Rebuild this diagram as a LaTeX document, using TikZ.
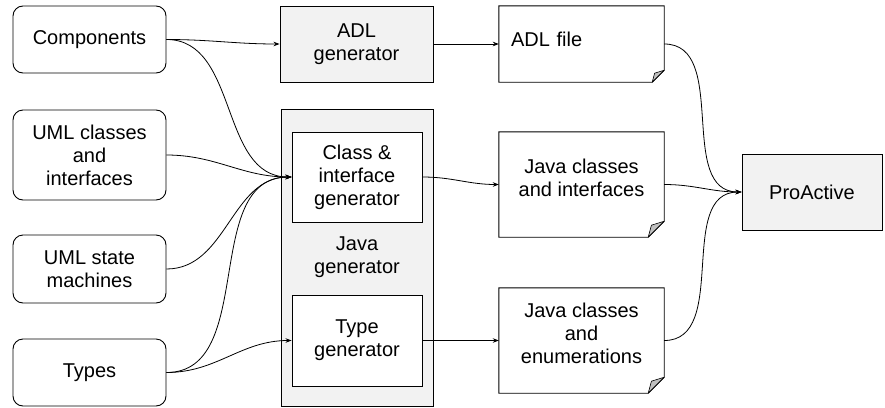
\documentclass[tikz,border=0pt]{standalone}
\usepackage{fontspec}
\setmainfont{Liberation Sans}
\usetikzlibrary{arrows.meta,calc}

\tikzset{
  input/.style={draw, rounded corners=10pt, line width=0.9pt, minimum width=153pt, align=center},
  gen/.style={draw, fill=black!5, line width=0.9pt, align=center},
  note/.style={minimum width=165pt, minimum height=105pt, align=center, text depth=14pt},
  link/.style={-{Stealth[length=6pt,width=4.5pt]}, line width=0.8pt},
}

\begin{document}
\begin{tikzpicture}[x=1pt,y=-1pt,font=\fontsize{20}{23}\selectfont]
\useasboundingbox (0,0) rectangle (885,407);

% inputs
\node[input, minimum height=67pt] at (89.5,39.5) (comp) {Components};
\node[input, minimum height=90pt] at (89.5,155) (umlc) {UML classes\\and\\interfaces};
\node[input, minimum height=68pt] at (89.5,269) (umls) {UML state\\machines};
\node[input, minimum height=67pt] at (89.5,372.5) (types) {Types};

% generators
\node[gen, minimum width=153pt, minimum height=76pt] at (356.5,44) (adlgen) {ADL\\generator};
\node[gen, minimum width=152pt, minimum height=297pt] at (357,257.5) (javagen) {Java\\generator};
\node[gen, fill=white, minimum width=130pt, minimum height=90pt] at (357,177) (cig) {Class \&\\interface\\generator};
\node[gen, fill=white, minimum width=130pt, minimum height=91pt] at (357,340.5) (tg) {Type\\generator};

% outputs
\node[note, minimum height=76pt, text width=141pt, inner xsep=12pt, align=left, text depth=10pt] at (581.5,44) (adlfile) {ADL file};
\node[note] at (581.5,184.5) (jci) {Java classes\\and interfaces};
\node[note] at (581.5,340.5) (jce) {Java classes\\and\\enumerations};
\foreach \n/\f in {adlfile/12, jci/16, jce/16} {
  \draw[line width=0.9pt] (\n.north west) -- (\n.north east) -- ([yshift=\f pt]\n.south east)
    -- ([xshift=-\f pt]\n.south east) -- (\n.south west) -- cycle;
  \draw[fill=black!25, line width=0.6pt, line join=round] ([yshift=\f pt]\n.south east)
    -- ($(\n.south east)+(-0.8*\f,-0.75*\f)$) -- ([xshift=-\f pt]\n.south east) -- cycle;
}

\node[gen, minimum width=140pt, minimum height=76pt] at (812,192) (pro) {ProActive};

% links
\draw[link] (comp.east) to[out=0,in=180] (adlgen.west);
\draw[link] (comp.east) to[out=0,in=180] (cig.west);
\draw[link] (umlc.east) to[out=0,in=180] (cig.west);
\draw[link] (umls.east) to[out=0,in=180] (cig.west);
\draw[link] (types.east) to[out=0,in=180] (cig.west);
\draw[link] (types.east) to[out=0,in=180] (tg.west);
\draw[link] (adlgen.east) -- (adlfile.west);
\draw[link] (cig.east) to[out=0,in=180] (jci.west);
\draw[link] (tg.east) -- (jce.west);
\draw[link] (adlfile.east) to[out=0,in=180] (pro.west);
\draw[link] (jci.east) to[out=0,in=180] (pro.west);
\draw[link] (jce.east) to[out=0,in=180] (pro.west);
\end{tikzpicture}
\end{document}
